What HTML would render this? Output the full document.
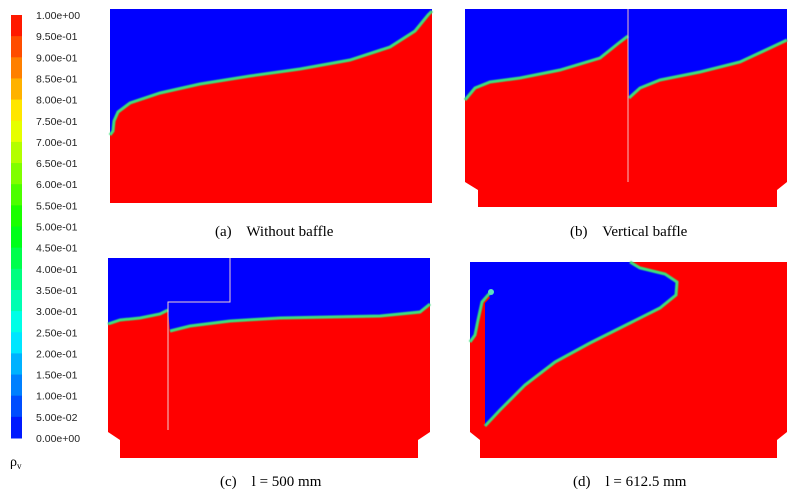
<!DOCTYPE html>
<html><head><meta charset="utf-8"><style>
body{margin:0;background:#fff;}
svg{display:block;font-family:"Liberation Serif",serif;}
.cb{font-family:"Liberation Sans",sans-serif;font-size:10.5px;fill:#222;}
.cap{font-size:15px;fill:#000;}
</style></head><body>
<svg id="fig" width="798" height="502" viewBox="0 0 798 502">
<defs>
<filter id="bl"><feGaussianBlur stdDeviation="0.4"/></filter>
</defs>
<g id="colorbar"></g>
<text x="10" y="466" class="cap" style="font-size:14px">ρ<tspan font-size="9" dy="3">v</tspan></text>

<!-- (a) -->
<g>
<rect x="110" y="9" width="322" height="194" fill="#0000ff"/>
<path d="M110,135 L113,131 L114,121 L118,112 L130,103 L160,93 L200,84 L250,76 L300,69 L350,60 L390,47 L415,31 L428,15 L432,11 L432,203 L110,203 Z" fill="#ff0000"/>
<path d="M110,135 L113,131 L114,121 L118,112 L130,103 L160,93 L200,84 L250,76 L300,69 L350,60 L390,47 L415,31 L428,15 L432,11" fill="none" stroke="#3ce07a" stroke-width="3" filter="url(#bl)"/>
</g>
<text x="215" y="236" class="cap">(a)&#160;&#160;&#160; Without baffle</text>

<!-- (b) -->
<g>
<path d="M465,9 L787,9 L787,182 L777,190 L777,207 L478,207 L478,190 L465,182 Z" fill="#ff0000"/>
<path d="M465,9 L628,9 L628,38 L620,42 L600,58 L560,70 L520,78 L490,82 L475,88 L465,100 Z" fill="#0000ff"/>
<path d="M628,9 L787,9 L787,40 L770,48 L740,62 L700,72 L660,80 L640,88 L629,98 Z" fill="#0000ff"/>
<path d="M465,100 L475,88 L490,82 L520,78 L560,70 L600,58 L620,42 L628,36" fill="none" stroke="#3ce07a" stroke-width="3" filter="url(#bl)"/>
<path d="M629,98 L640,88 L660,80 L700,72 L740,62 L770,48 L787,40" fill="none" stroke="#3ce07a" stroke-width="3" filter="url(#bl)"/>
<line x1="628" y1="9" x2="628" y2="182" stroke="#f4c0c0" stroke-width="1"/>
</g>
<text x="570" y="236" class="cap">(b)&#160;&#160;&#160; Vertical baffle</text>

<!-- (c) -->
<g>
<path d="M108,258 L430,258 L430,432 L418,440 L418,458 L120,458 L120,440 L108,432 Z" fill="#ff0000"/>
<path d="M108,258 L430,258 L430,304 L420,312 L380,316 L330,317 L280,318 L230,321 L190,326 L170,331 L168,310 L160,314 L140,318 L120,320 L108,324 Z" fill="#0000ff"/>
<path d="M108,324 L120,320 L140,318 L160,314 L168,310" fill="none" stroke="#3ce07a" stroke-width="3" filter="url(#bl)"/>
<path d="M170,331 L190,326 L230,321 L280,318 L330,317 L380,316 L420,312 L430,304" fill="none" stroke="#3ce07a" stroke-width="3" filter="url(#bl)"/>
<path d="M168,430 L168,302 L230,302 L230,258" fill="none" stroke="#f0d0d0" stroke-width="1"/>
</g>
<text x="220" y="486" class="cap">(c)&#160;&#160;&#160; l = 500 mm</text>

<!-- (d) -->
<g>
<path d="M470,262 L787,262 L787,432 L777,440 L777,458 L480,458 L480,440 L470,432 Z" fill="#ff0000"/>
<path d="M470,262 L630,262 L640,268 L665,274 L677,282 L676,295 L660,308 L630,323 L590,343 L555,362 L525,385 L500,410 L485,426 L485,303 L490,298 L488,295 L482,302 L478,320 L475,335 L470,342 Z" fill="#0000ff"/>
<path d="M630,262 L640,268 L665,274 L677,282 L676,295 L660,308 L630,323 L590,343 L555,362 L525,385 L500,410 L485,426" fill="none" stroke="#3ce07a" stroke-width="3" filter="url(#bl)"/>
<path d="M470,342 L475,335 L478,320 L482,302 L488,295 L491,292" fill="none" stroke="#3ce07a" stroke-width="3" filter="url(#bl)"/>
<circle cx="491" cy="292" r="3" fill="#5ce0c0"/>
</g>
<text x="573" y="486" class="cap">(d)&#160;&#160;&#160; l = 612.5 mm</text>
</svg>
<script>
const tickLabels=["1.00e+00","9.50e-01","9.00e-01","8.50e-01","8.00e-01","7.50e-01","7.00e-01","6.50e-01","6.00e-01","5.50e-01","5.00e-01","4.50e-01","4.00e-01","3.50e-01","3.00e-01","2.50e-01","2.00e-01","1.50e-01","1.00e-01","5.00e-02","0.00e+00"];
const tickValues=[1,0.95,0.9,0.85,0.8,0.75,0.7,0.65,0.6,0.55,0.5,0.45,0.4,0.35,0.3,0.25,0.2,0.15,0.1,0.05,0];
const NS="http://www.w3.org/2000/svg";
const cb=document.getElementById('colorbar');
const top0=15,bot0=438;
function yScale(v){return bot0-(bot0-top0)*v;}
function color(v){const h=240*(1-v);return "hsl("+h+",100%,50%)";}
for(let i=0;i<tickValues.length-1;i++){
  const v=tickValues[i],v2=tickValues[i+1];
  const r=document.createElementNS(NS,'rect');
  
  
  r.setAttribute('x',11);r.setAttribute('y',yScale(v));
  r.setAttribute('width',11);r.setAttribute('height',yScale(v2)-yScale(v)+0.5);
  r.setAttribute('fill',color((v+v2)/2));
  cb.appendChild(r);
}
tickLabels.forEach((t,i)=>{
  const tx=document.createElementNS(NS,'text');
  
  
  tx.setAttribute('x',36);tx.setAttribute('y',yScale(tickValues[i])+4);
  tx.setAttribute('class','cb');tx.textContent=t;cb.appendChild(tx);
});
</script>
</body></html>
